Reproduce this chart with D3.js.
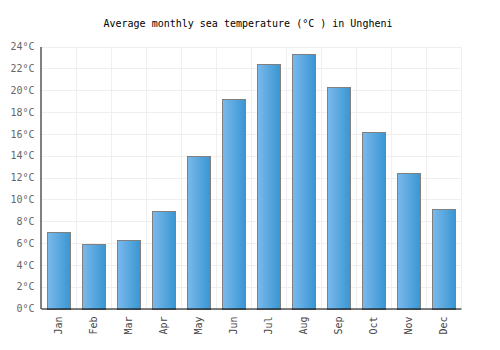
<!DOCTYPE html>
<html><head><meta charset="utf-8">
<script src="https://cdn.jsdelivr.net/npm/d3@7"></script>
<style>body{margin:0;background:#fff}svg{display:block}</style>
</head><body><svg id="c" width="500" height="350"></svg>
<script>
const months = ["Jan","Feb","Mar","Apr","May","Jun","Jul","Aug","Sep","Oct","Nov","Dec"];
const temps = [7.0,5.9,6.3,8.9,14.0,19.2,22.4,23.3,20.3,16.2,12.4,9.1];
const yTicks = [0,2,4,6,8,10,12,14,16,18,20,22,24];
const title = "Average monthly sea temperature (°C ) in Ungheni";

const svg = d3.select("#c");
const m = {l:41, r:461, t:46.5, b:308.5};
const x = d3.scaleBand().domain(months).range([m.l, m.r]).paddingInner(0.32).paddingOuter(0.16);
const xg = d3.scaleBand().domain(months).range([m.l, m.r]);
const y = d3.scaleLinear().domain([0,24]).range([m.b, m.t]);
const font = "DejaVu Sans Mono, monospace";

const defs = svg.append("defs");
const g = defs.append("linearGradient").attr("id","bg").attr("x1","0").attr("x2","1").attr("y1","0").attr("y2","0");
g.append("stop").attr("offset","0%").attr("stop-color","#7ab9ec");
g.append("stop").attr("offset","100%").attr("stop-color","#3996d2");

// grid
svg.append("g").selectAll("line.h").data(yTicks).join("line")
  .attr("x1", m.l).attr("x2", m.r).attr("y1", d=>Math.round(y(d))+0.5).attr("y2", d=>Math.round(y(d))+0.5)
  .attr("stroke", "#efefef");
svg.append("g").selectAll("line.v").data(months).join("line")
  .attr("x1", d=>Math.round(xg(d)+xg.bandwidth())+0.5).attr("x2", d=>Math.round(xg(d)+xg.bandwidth())+0.5)
  .attr("y1", m.t).attr("y2", m.b).attr("stroke", "#efefef");

// bars
svg.append("g").selectAll("rect").data(temps).join("rect")
  .attr("x", (d,i)=>Math.round(x(months[i]))+0.5)
  .attr("width", Math.floor(x.bandwidth()))
  .attr("y", d=>Math.round(y(d))+0.5)
  .attr("height", d=>Math.round(y(0))-Math.round(y(d)))
  .attr("fill", "url(#bg)").attr("stroke", "#808080").attr("stroke-width", 1);

// axes
const ya = d3.axisLeft(y).tickValues(yTicks).tickSize(0).tickPadding(6).tickFormat(d=>d+"°C");
const yg = svg.append("g").attr("transform", `translate(${m.l-0.5},0)`).call(ya);
yg.select(".domain").attr("stroke","#000");
yg.selectAll("text").attr("font-family", font).attr("font-size", 10).attr("fill","#666");

const xa = d3.axisBottom(xg).tickSize(0).tickPadding(0);
const xgp = svg.append("g").attr("transform", `translate(0,${m.b})`).call(xa);
xgp.select(".domain").attr("stroke","#000");
xgp.selectAll("text").attr("font-family", font).attr("font-size", 10).attr("fill","#444")
  .attr("transform","rotate(-90)").attr("text-anchor","end").attr("dy","0.35em").attr("x",-8).attr("y",0);

svg.append("text").attr("x", 248).attr("y", 27).attr("text-anchor","middle")
  .attr("font-family", font).attr("font-size", 10).attr("fill","#000").text(title);
</script></body></html>
